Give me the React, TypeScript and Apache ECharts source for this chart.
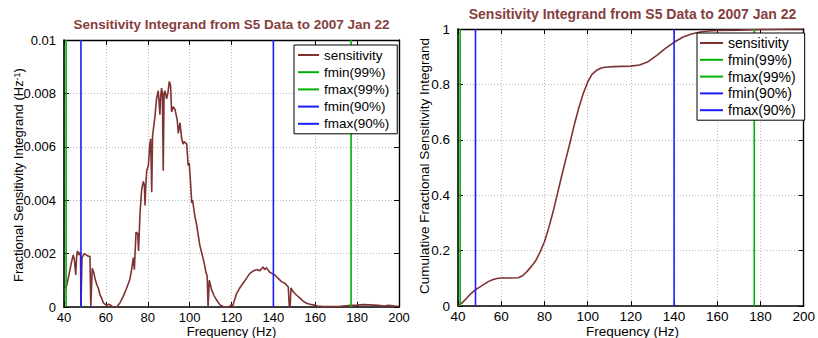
import React, { useEffect, useRef } from "react";
import * as echarts from "echarts";

// ---------- data ----------
const freqTicks = { min: 40, max: 200, step: 20 };

const integrandFreq = [
  40, 41.3, 42.5, 43.5, 44.4, 45.0, 45.6, 46.0, 46.4, 47.2, 47.6, 47.9, 48.1, 48.3, 48.6, 49.7,
  50.6, 51.6, 52.4, 52.8, 53.0, 53.5, 54.2, 54.8, 55.6, 56.4, 57.2, 58.0, 58.8, 59.6, 60.4, 61.2,
  62.0, 63.0, 64.0, 65.2, 66.7, 68.3, 69.9, 71.5, 72.3, 73.1, 73.6, 74.0, 74.4, 75.2, 75.6, 76.3,
  77.1, 77.9, 78.4, 78.7, 79.1, 79.5, 80.3, 81.0, 81.4, 81.9, 82.3, 82.6, 83.4, 84.2, 85.0, 85.4,
  85.8, 86.2, 86.6, 87.0, 87.4, 87.8, 88.2, 89.0, 89.6, 90.3, 90.9, 91.4, 92.2, 93.0, 94.1, 94.6,
  95.4, 96.2, 96.9, 97.4, 98.6, 99.3, 99.8, 100.5, 101.0, 101.4, 102.5, 103.3, 104.1, 104.9, 105.7,
  106.5, 107.2, 107.8, 108.4, 108.8, 109.1, 109.4, 110.5, 111.7, 112.9, 114.5, 116, 117.5, 119, 120,
  120.5, 121, 122.4, 124, 125.6, 127.2, 128.8, 130.4, 132, 133.6, 134.5, 135.1, 135.8, 136.7, 137.5,
  138.3, 139.5, 140.7, 142.3, 143.9, 145.5, 146.3, 147.1, 147.6, 148, 148.4, 149.5, 151, 152.7, 154.2,
  155.8, 157.5, 159, 161, 164, 168, 172, 176, 180, 183, 186, 190, 193, 195, 198, 200,
];
const integrandValue = [
  0.00064, 0.0008, 0.00126, 0.00165, 0.00195, 0.00175, 0.0012, 0.00185, 0.0021, 0.00195, 0.00205, 0.0019, 0, 0, 0.00185, 0.002,
  0.00195, 0.0019, 0.0019, 0, 0, 0.00145, 0.0013, 0.00107, 0.00085, 0.0007, 0.00045, 0.00033, 0.00015, 0.0001, 0.00007, 0.0001,
  0.00008, 0.00002, 0, 0, 0.00015, 0.0004, 0.0007, 0.00105, 0.0014, 0.00185, 0.0014, 0.0021, 0.0028, 0.00275, 0.0021, 0.0035,
  0.0044, 0.0047, 0.00455, 0.0038, 0.0046, 0.0051, 0.0053, 0.0061, 0.0063, 0.0043, 0.0064, 0.0066, 0.0071, 0.0078, 0.0081, 0.0077,
  0.0072, 0.0079, 0.0082, 0.008, 0.0051, 0.008, 0.0081, 0.0078, 0.008, 0.00845, 0.0083, 0.0073, 0.0075, 0.0074, 0.007, 0.0065,
  0.0069, 0.0063, 0.0061, 0.0062, 0.0061, 0.0053, 0.0054, 0.0046, 0.0039, 0.004, 0.0034, 0.0031, 0.0027, 0.0023, 0.00205,
  0.0018, 0.00155, 0.0013, 0.00115, 0, 0, 0.001, 0.00064, 0.00042, 0.00026, 0.00008, 0.00002, 0, 0.00002, 0.00008,
  0.00003, 0.00015, 0.0005, 0.00072, 0.0009, 0.00108, 0.00126, 0.00135, 0.0014, 0.00136, 0.00145, 0.0015, 0.0014, 0.00147, 0.00138,
  0.0013, 0.00125, 0.0012, 0.00107, 0.00095, 0.00089, 0.00082, 0.00076, 0, 0, 0.00072, 0.00057, 0.00045, 0.00033, 0.00022,
  0.00014, 0.0001, 0.00008, 0.00004, 0.00002, 0.00002, 0.00003, 0.00005, 0.00007, 0.00009, 0.00008, 0.00006, 0.00004, 0.00006, 0.00004, 0.00003,
];

const cumulativeFreq = [
  40, 42, 44, 46, 48, 50, 52, 54, 56, 58, 60, 64, 68, 70, 72, 74, 76, 78, 80, 82, 84, 86, 88, 90, 92,
  94, 96, 98, 100, 102, 104, 106, 108, 112, 116, 120, 124, 128, 132, 136, 140, 144, 148, 152, 156, 160,
  170, 180, 190, 200,
];
const cumulativeValue = [
  0, 0.012, 0.028, 0.045, 0.058, 0.068, 0.078, 0.088, 0.095, 0.099, 0.101, 0.101, 0.102, 0.11, 0.125,
  0.143, 0.164, 0.195, 0.232, 0.282, 0.34, 0.405, 0.47, 0.533, 0.595, 0.66, 0.718, 0.768, 0.808, 0.836,
  0.85, 0.858, 0.862, 0.864, 0.865, 0.866, 0.87, 0.882, 0.905, 0.93, 0.952, 0.97, 0.982, 0.989, 0.993,
  0.995, 0.996, 0.998, 0.999, 1.0,
];

const thresholdNames = ["fmin(99%)", "fmax(99%)", "fmin(90%)", "fmax(90%)"];
const thresholdFreq = [41.0, 177.1, 48.1, 140.0];

const leftYAxis = { min: 0, max: 0.01, step: 0.002 };
const rightYAxis = { min: 0, max: 1, step: 0.2 };

const titleText = "Sensitivity Integrand from S5 Data to 2007 Jan 22";
const xName = "Frequency (Hz)";
const leftYName = "Fractional Sensitivity Integrand (Hz{sup|-1})";
const rightYName = "Cumulative Fractional Sensitivity Integrand";
const curveName = "sensitivity";

// ---------- style ----------
const FONT = "Arial, 'Liberation Sans', Helvetica, sans-serif";
const BROWN = "#7f3232";
const TITLE_COLOR = "#853e3e";
const THRESH_COLORS = ["#00b000", "#00b000", "#1c1cff", "#1c1cff"];

function buildAxes(
  gridIndex: number,
  yr: { min: number; max: number; step: number },
  fontSize: number,
  xMargin: number,
  yMargin: number
) {
  const common = { type: "value" as const, gridIndex };
  const xs = [
    {
      ...common,
      position: "bottom",
      min: freqTicks.min,
      max: freqTicks.max,
      interval: freqTicks.step,
      axisLine: { show: true, onZero: false, lineStyle: { color: "#000", width: 1.6 } },
      axisTick: { show: true, inside: true, length: 5, lineStyle: { color: "#000", width: 1 } },
      axisLabel: { show: true, color: "#000", fontSize, fontFamily: FONT, margin: xMargin, lineHeight: 10 },
      splitLine: { show: true, lineStyle: { color: "#b8b8b8", type: [1, 2], width: 1 } },
    },
    {
      ...common,
      position: "top",
      min: freqTicks.min,
      max: freqTicks.max,
      interval: freqTicks.step,
      axisLine: { show: true, onZero: false, lineStyle: { color: "#000", width: 1.4 } },
      axisTick: { show: true, inside: true, length: 5, lineStyle: { color: "#000", width: 1 } },
      axisLabel: { show: false },
      splitLine: { show: false },
    },
  ];
  const ys = [
    {
      ...common,
      position: "left",
      min: yr.min,
      max: yr.max,
      interval: yr.step,
      axisLine: { show: true, onZero: false, lineStyle: { color: "#000", width: 1.6 } },
      axisTick: { show: true, inside: true, length: 5, lineStyle: { color: "#000", width: 1 } },
      axisLabel: { show: true, color: "#000", fontSize, fontFamily: FONT, margin: yMargin, lineHeight: 10 },
      splitLine: { show: true, lineStyle: { color: "#b8b8b8", type: [1, 2], width: 1 } },
    },
    {
      ...common,
      position: "right",
      min: yr.min,
      max: yr.max,
      interval: yr.step,
      axisLine: { show: true, onZero: false, lineStyle: { color: "#000", width: 1.4 } },
      axisTick: { show: true, inside: true, length: 5, lineStyle: { color: "#000", width: 1 } },
      axisLabel: { show: false },
      splitLine: { show: false },
    },
  ];
  return { xs, ys };
}

function buildSeries(axisBase: number, freq: number[], vals: number[], yMax: number) {
  const out: any[] = [
    {
      name: curveName,
      type: "line",
      xAxisIndex: axisBase,
      yAxisIndex: axisBase,
      data: freq.map((f, i) => [f, vals[i]]),
      showSymbol: false,
      symbol: "none",
      color: BROWN,
      itemStyle: { color: BROWN },
      lineStyle: { color: BROWN, width: 1.6 },
      z: 2,
    },
  ];
  thresholdNames.forEach((n, i) => {
    out.push({
      name: n,
      type: "line",
      xAxisIndex: axisBase,
      yAxisIndex: axisBase,
      data: [
        [thresholdFreq[i], 0],
        [thresholdFreq[i], yMax],
      ],
      showSymbol: false,
      symbol: "none",
      color: THRESH_COLORS[i],
      itemStyle: { color: THRESH_COLORS[i] },
      lineStyle: { color: THRESH_COLORS[i], width: 1.6 },
      z: 3,
    });
  });
  return out;
}

function legendFor(left: number, top: number, fontSize: number, itemWidth: number, gap: number, pad: number[]) {
  return {
    show: true,
    orient: "vertical",
    left,
    top,
    backgroundColor: "#fff",
    borderColor: "#000",
    borderWidth: 1,
    borderRadius: 0,
    padding: pad,
    itemGap: gap,
    itemWidth,
    itemHeight: 2,
    icon: "rect",
    selectedMode: false,
    textStyle: { fontSize, color: "#000", fontFamily: FONT },
    data: [curveName, ...thresholdNames],
    z: 10,
  };
}

export default function App() {
  const ref = useRef<HTMLDivElement>(null);
  useEffect(() => {
    if (!ref.current) return;
    const chart = echarts.init(ref.current, null, { renderer: "svg" });
    const a0 = buildAxes(0, leftYAxis, 13, 5, 8);
    const a1 = buildAxes(1, rightYAxis, 13.5, 5, 8);
    const option: any = {
      animation: false,
      backgroundColor: "#fff",
      grid: [
        { left: 64, top: 40, width: 335, height: 267, containLabel: false },
        { left: 458, top: 29, width: 349, height: 277, containLabel: false },
      ],
      xAxis: [...a0.xs, ...a1.xs],
      yAxis: [...a0.ys, ...a1.ys],
      legend: [
        legendFor(294, 45, 13.5, 21, 3.2, [3, 8, 3, 4]),
        legendFor(697, 33, 14, 23, 2.8, [3, 9, 3, 3]),
      ],
      series: [
        ...buildSeries(0, integrandFreq, integrandValue, leftYAxis.max),
        ...buildSeries(2, cumulativeFreq, cumulativeValue, rightYAxis.max),
      ],
      graphic: [
        {
          type: "text",
          x: 231.5,
          y: 24.5,
          style: {
            text: titleText,
            fill: TITLE_COLOR,
            fontSize: 13.5,
            fontWeight: "bold",
            fontFamily: FONT,
            align: "center",
            verticalAlign: "middle",
          },
        },
        {
          type: "text",
          x: 632.5,
          y: 13.5,
          style: {
            text: titleText,
            fill: TITLE_COLOR,
            fontSize: 14,
            fontWeight: "bold",
            fontFamily: FONT,
            align: "center",
            verticalAlign: "middle",
          },
        },
        {
          type: "text",
          x: 231.5,
          y: 331,
          style: { text: xName, fill: "#000", fontSize: 13, fontFamily: FONT, align: "center", verticalAlign: "middle" },
        },
        {
          type: "text",
          x: 632.5,
          y: 331.5,
          style: { text: xName, fill: "#000", fontSize: 13.5, fontFamily: FONT, align: "center", verticalAlign: "middle" },
        },
        {
          type: "text",
          x: 18.5,
          y: 175,
          rotation: Math.PI / 2,
          style: {
            text: leftYName,
            fill: "#000",
            fontSize: 13,
            fontFamily: FONT,
            align: "center",
            verticalAlign: "middle",
            rich: { sup: { fontSize: 9, fontFamily: FONT, fill: "#000", verticalAlign: "top" } },
          },
        },
        {
          type: "text",
          x: 424.5,
          y: 166,
          rotation: Math.PI / 2,
          style: { text: rightYName, fill: "#000", fontSize: 13.5, fontFamily: FONT, align: "center", verticalAlign: "middle" },
        },
      ],
    };
    chart.setOption(option);
    return () => chart.dispose();
  }, []);
  return <div ref={ref} style={{ position: "absolute", left: 0, top: 0, width: 818, height: 338 }} />;
}
